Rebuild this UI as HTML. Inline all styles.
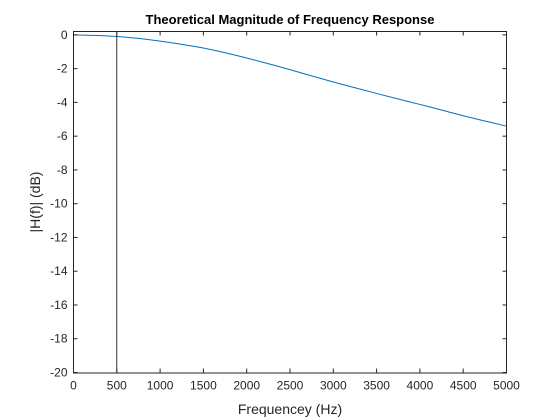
<!DOCTYPE html>
<html><head><meta charset="utf-8"><style>
body{margin:0;background:#fff;}
svg{display:block;font-family:"Liberation Sans",Arial,sans-serif;}
</style></head><body>
<svg id="chart" width="560" height="420">
<rect x="0" y="0" width="560" height="420" fill="#fff"/>
<rect x="73" y="31" width="434" height="342" fill="#fff"/>
<path id="curve" fill="none" stroke="#0072bd" stroke-width="1"/>
<line id="marker" stroke="#000" stroke-width="0.8"/>
<rect x="73.5" y="31.5" width="433" height="341.5" fill="none" stroke="#262626" stroke-width="1"/>
<g id="ticks" font-size="12" fill="#262626"></g>
<text x="290" y="24" text-anchor="middle" font-size="13" font-weight="bold" fill="#000">Theoretical Magnitude of Frequency Response</text>
<text x="290" y="414" text-anchor="middle" font-size="14" fill="#262626">Frequencey (Hz)</text>
<text transform="translate(40,202) rotate(-90)" text-anchor="middle" font-size="14" fill="#262626">|H(f)| (dB)</text>
</svg>
<script>
const freqs=[0,250,500,750,1000,1250,1500,1750,2000,2250,2500,2750,3000,3250,3500,3750,4000,4250,4500,4750,5000];
const magDb=[0,-0.03,-0.1,-0.21,-0.37,-0.56,-0.78,-1.06,-1.37,-1.71,-2.06,-2.43,-2.79,-3.13,-3.47,-3.8,-4.12,-4.45,-4.79,-5.1,-5.41];
const xTicks=[0,500,1000,1500,2000,2500,3000,3500,4000,4500,5000];
const yTicks=[0,-2,-4,-6,-8,-10,-12,-14,-16,-18,-20];
const markerFreq=500;
const X0=73.5,X1=506.5,Y0=372.5,Y1=31.5,XMIN=0,XMAX=5000,YMIN=-20,YMAX=0.2;
function sx(v){return X0+(v-XMIN)/(XMAX-XMIN)*(X1-X0);}
function sy(v){return Y0-(v-YMIN)/(YMAX-YMIN)*(Y0-Y1);}
const NS="http://www.w3.org/2000/svg";
// smooth path (Catmull-Rom to Bezier)
const P=freqs.map((f,i)=>[sx(f),sy(magDb[i])]);
let d='M'+P[0][0].toFixed(2)+' '+P[0][1].toFixed(2);
for(let i=0;i<P.length-1;i++){
 const p0=P[Math.max(0,i-1)],p1=P[i],p2=P[i+1],p3=P[Math.min(P.length-1,i+2)];
 const c1=[p1[0]+(p2[0]-p0[0])/6,p1[1]+(p2[1]-p0[1])/6];
 const c2=[p2[0]-(p3[0]-p1[0])/6,p2[1]-(p3[1]-p1[1])/6];
 d+=' C'+c1[0].toFixed(2)+' '+c1[1].toFixed(2)+' '+c2[0].toFixed(2)+' '+c2[1].toFixed(2)+' '+p2[0].toFixed(2)+' '+p2[1].toFixed(2);
}
document.getElementById('curve').setAttribute('d',d);
const m=document.getElementById('marker');
m.setAttribute('x1',sx(markerFreq));m.setAttribute('x2',sx(markerFreq));m.setAttribute('y1',Y1);m.setAttribute('y2',Y0);
const g=document.getElementById('ticks');
xTicks.forEach(t=>{
 const l=document.createElementNS(NS,'line');
 
 
 l.setAttribute('x1',sx(t));l.setAttribute('x2',sx(t));l.setAttribute('y1',Y0);l.setAttribute('y2',Y0-4);l.setAttribute('stroke','#262626');g.appendChild(l);
 const l2=document.createElementNS(NS,'line');
 
 
 l2.setAttribute('x1',sx(t));l2.setAttribute('x2',sx(t));l2.setAttribute('y1',Y1);l2.setAttribute('y2',Y1+4);l2.setAttribute('stroke','#262626');g.appendChild(l2);
 const tx=document.createElementNS(NS,'text');
 
 
 tx.setAttribute('x',sx(t));tx.setAttribute('y',Y0+17);tx.setAttribute('text-anchor','middle');tx.textContent=t;g.appendChild(tx);
});
yTicks.forEach(t=>{
 const l=document.createElementNS(NS,'line');
 
 
 l.setAttribute('x1',X0);l.setAttribute('x2',X0+4);l.setAttribute('y1',sy(t));l.setAttribute('y2',sy(t));l.setAttribute('stroke','#262626');g.appendChild(l);
 const l2=document.createElementNS(NS,'line');
 
 
 l2.setAttribute('x1',X1);l2.setAttribute('x2',X1-4);l2.setAttribute('y1',sy(t));l2.setAttribute('y2',sy(t));l2.setAttribute('stroke','#262626');g.appendChild(l2);
 const tx=document.createElementNS(NS,'text');
 
 
 tx.setAttribute('x',X0-6);tx.setAttribute('y',sy(t)+4);tx.setAttribute('text-anchor','end');tx.textContent=t;g.appendChild(tx);
});
</script>
</body></html>
